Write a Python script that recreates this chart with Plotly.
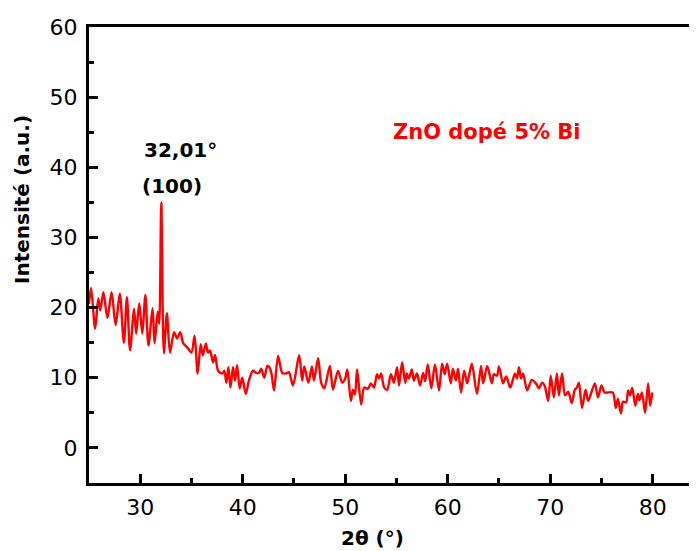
import plotly.graph_objects as go

two_theta = [25.0, 25.2, 25.6, 25.9, 26.1, 26.4, 26.8, 27.2, 27.6, 28.0, 28.4, 28.7, 29.0, 29.4, 29.6,
             29.9, 30.2, 30.5, 30.8, 31.2, 31.4, 31.7, 31.85, 32.05, 32.3, 32.6, 32.9, 33.3, 33.6, 33.9,
             34.2, 34.6, 35.0, 35.3, 35.6, 35.9, 36.1, 36.4, 36.6, 36.8, 37.1, 37.3, 37.6, 38.0, 38.2,
             38.4, 38.6, 38.8, 39.05, 39.25, 39.45, 39.7, 39.95, 40.3, 40.6, 41.0, 41.3, 41.6, 41.8,
             42.1, 42.4, 42.6, 42.8, 43.05, 43.45, 43.85, 44.2, 44.5, 44.9, 45.5, 45.8, 46.0, 46.4,
             46.75, 46.95, 47.35, 47.65, 47.95, 48.5, 48.8, 49.3, 49.7, 50.0, 50.2, 50.55, 50.75,
             50.95, 51.15, 51.55, 51.85, 52.2, 52.5, 52.8, 53.1, 53.3, 53.5, 53.8, 54.1, 54.45, 54.75,
             55.05, 55.25, 55.55, 55.85, 56.0, 56.2, 56.5, 56.7, 57.0, 57.3, 57.6, 57.8, 58.05, 58.4,
             58.75, 59.15, 59.45, 59.7, 59.95, 60.3, 60.5, 60.8, 61.0, 61.3, 61.6, 61.9, 62.35, 62.85,
             63.25, 63.45, 63.85, 64.3, 64.5, 64.8, 65.0, 65.4, 65.7, 66.1, 66.55, 66.75, 66.95, 67.15,
             67.35, 67.75, 68.2, 68.6, 68.9, 69.2, 69.45, 69.8, 70.05, 70.35, 70.65, 70.85, 71.15,
             71.45, 71.75, 72.1, 72.4, 72.6, 72.8, 73.1, 73.45, 73.7, 74.35, 74.66, 75.0, 75.3, 75.6,
             76.1, 76.4, 76.6, 76.9, 77.1, 77.4, 77.6, 77.8, 78.0, 78.3, 78.55, 78.7, 78.95, 79.25,
             79.55, 79.75, 79.95]
intensity = [20.5, 22.8, 17.0, 21.3, 19.6, 22.2, 18.5, 22.2, 17.5, 22.0, 15.0, 21.5, 13.9, 19.8, 16.3,
             20.6, 16.3, 21.8, 14.6, 19.9, 14.9, 19.4, 17.7, 35.0, 13.5, 19.2, 13.6, 16.5, 15.6, 16.5,
             14.9, 14.3, 13.6, 16.0, 10.6, 14.8, 13.2, 14.9, 13.6, 13.9, 12.2, 13.2, 11.0, 10.6, 11.0,
             9.3, 11.5, 8.6, 11.5, 9.6, 11.8, 8.5, 10.0, 7.7, 9.6, 11.0, 10.7, 10.7, 11.3,
             10.0, 11.7, 11.5, 10.6, 8.2, 13.1, 10.7, 10.6, 10.8, 8.9, 13.2, 9.6, 11.6, 9.3,
             11.6, 9.6, 12.8, 9.3, 8.5, 11.7, 8.3, 11.0, 9.3, 9.9, 11.2, 6.7, 8.3,
             7.6, 11.2, 6.2, 8.6, 8.4, 9.2, 8.6, 10.5, 9.9, 10.6, 8.6, 8.3, 10.5, 9.3,
             11.5, 8.9, 12.2, 9.3, 10.6, 9.9, 11.2, 9.6, 10.6, 8.9, 10.7, 9.5, 11.9, 8.5,
             11.9, 8.2, 12.0, 10.5, 12.0, 9.2, 11.3, 9.6, 11.3, 7.9, 11.0, 9.2, 12.0, 7.7,
             11.7, 9.2, 11.7, 9.2, 10.5, 10.3, 11.6, 9.2, 10.2, 8.6, 10.6, 9.9, 11.5, 9.9,
             10.6, 8.2, 9.7, 9.2, 8.5, 9.3, 8.9, 6.7, 10.3, 7.2, 10.6, 7.5, 10.6,
             7.5, 8.0, 6.4, 8.3, 8.6, 9.3, 5.7, 8.3, 6.7, 9.2, 7.2, 8.9, 7.9, 7.9,
             7.9, 5.7, 7.0, 4.9, 6.6, 6.5, 8.2, 7.5, 8.6, 6.0, 7.7, 6.8, 7.9, 5.0,
             9.2, 6.0, 7.9]

x_ticks = [30, 40, 50, 60, 70, 80]
y_ticks = [0, 10, 20, 30, 40, 50, 60]

fig = go.Figure()
fig.add_trace(go.Scatter(x=two_theta, y=intensity, mode="lines",
                         line=dict(color="#ff0000", width=2.4, shape="spline", smoothing=0.8),
                         showlegend=False, hoverinfo="skip"))

axis_font = dict(family="DejaVu Sans", size=22, color="black")
fig.update_xaxes(range=[25, 85.1], tickvals=x_ticks, ticks="inside", ticklen=9, tickwidth=3,
                 tickcolor="black", showline=True, linewidth=3, linecolor="black", mirror=True,
                 showgrid=False, zeroline=False, tickfont=axis_font, ticklabelstandoff=3,
                 automargin=False,
                 minor=dict(dtick=5, tick0=0, ticks="inside", ticklen=5, tickwidth=3, tickcolor="black"))
fig.update_yaxes(range=[-5, 60], tickvals=y_ticks, ticks="inside", ticklen=9, tickwidth=3,
                 tickcolor="black", showline=True, linewidth=3, linecolor="black", mirror=False,
                 showgrid=False, zeroline=False, tickfont=axis_font, ticklabelstandoff=4,
                 automargin=False,
                 minor=dict(dtick=5, tick0=0, ticks="inside", ticklen=5, tickwidth=3, tickcolor="black"))

bold = dict(family="DejaVu Sans", size=20, color="black")
fig.add_annotation(text="<b>32,01°</b>", x=33.9, y=42.5, xref="x", yref="y", showarrow=False, font=bold)
fig.add_annotation(text="<b>(100)</b>", x=33.1, y=37.3, xref="x", yref="y", showarrow=False, font=bold)
fig.add_annotation(text="<b>ZnO dopé 5% Bi</b>", x=63.8, y=45.0, xref="x", yref="y", showarrow=False,
                   font=dict(family="DejaVu Sans", size=21, color="#ff0000"))
fig.add_annotation(text="<b>Intensité (a.u.)</b>", x=(22 - 89) / 616, y=(483 - 200) / 456,
                   xref="paper", yref="paper", xanchor="center", yanchor="middle",
                   showarrow=False, textangle=-90, font=bold)
fig.add_annotation(text="<b>2θ (°)</b>", x=52.7, y=(483 - 538) / 456, xref="x", yref="paper",
                   showarrow=False, font=bold, yanchor="middle")

# page body has an 8px margin: figure is sized/placed so the plot lands where the reference has it
fig.update_layout(width=697, height=543, margin=dict(l=81, r=0, t=19, b=68, autoexpand=False),
                  plot_bgcolor="white", paper_bgcolor="white")
fig.write_html("out.html")
